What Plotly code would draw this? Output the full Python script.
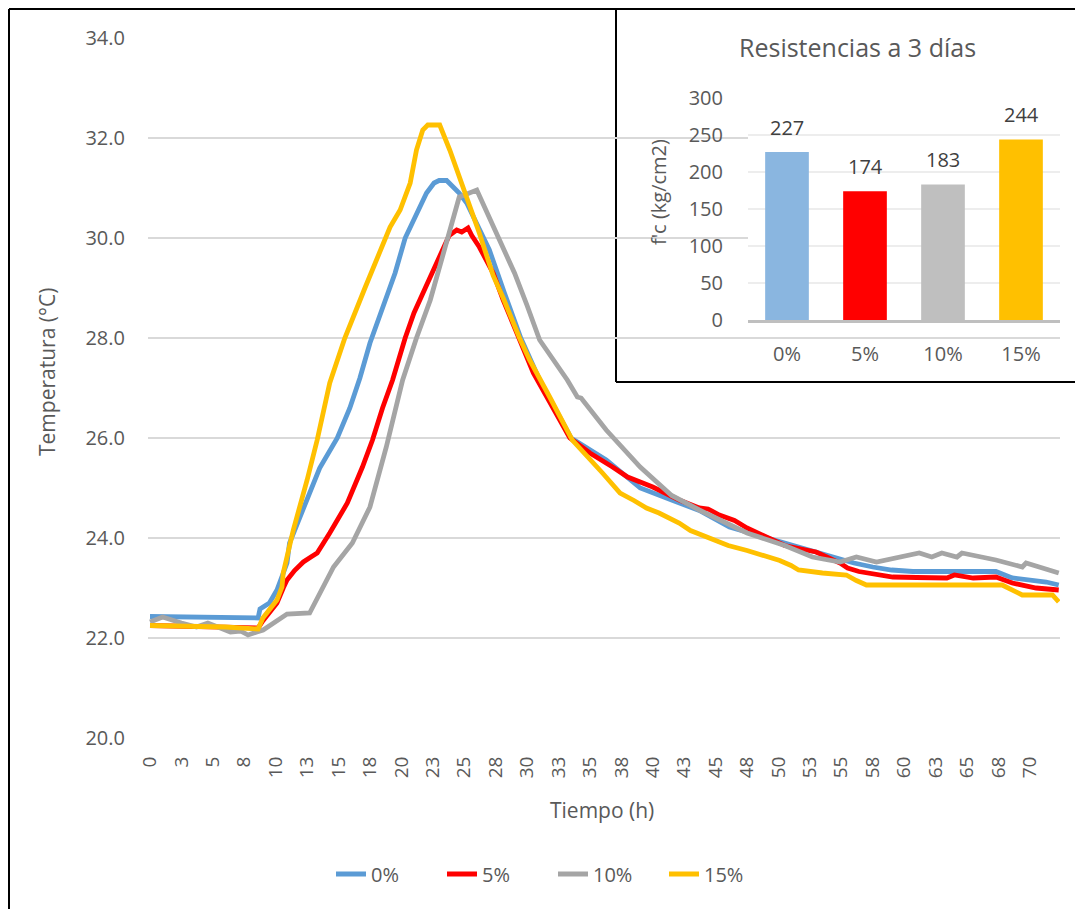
import plotly.graph_objects as go

# ---------------- data ----------------
series_names = ["0%", "5%", "10%", "15%"]
series_colors = ["#5B9BD5", "#FF0000", "#A5A5A5", "#FFC000"]

t_0 = [0, 2, 4, 6, 8.6, 8.75, 9.5, 10.1, 10.9, 11.1, 12.5, 13.5, 14.9, 15.9, 16.7,
       17.5, 18.5, 19.5, 20.3, 21.2, 22.0, 22.6, 23.0, 23.6, 24.0, 24.6, 25.2, 26.0,
       27.0, 28.2, 29.5, 31.0, 33.5, 36.3, 39.0, 41.6, 43.7, 46.1, 48.5, 50.1, 52.5,
       54.6, 56.0, 57.5, 59.0, 60.7, 62.5, 64.0, 66.0, 67.3, 68.6, 70.0, 71.3, 72.3]
temp_0 = [22.43, 22.42, 22.42, 22.41, 22.40, 22.58, 22.70, 22.96, 23.50, 23.90, 24.80,
          25.40, 26.00, 26.60, 27.20, 27.90, 28.60, 29.30, 30.00, 30.50, 30.90, 31.10,
          31.15, 31.15, 31.05, 30.90, 30.70, 30.30, 29.76, 28.90, 28.00, 27.16, 26.00,
          25.56, 25.00, 24.75, 24.55, 24.22, 24.05, 23.92, 23.75, 23.62, 23.50, 23.42,
          23.36, 23.33, 23.33, 23.35, 23.33, 23.33, 23.20, 23.15, 23.12, 23.06]

t_5 = [0, 3, 6, 8.6, 9.0, 10.1, 10.6, 10.9, 11.5, 12.2, 12.8, 13.3, 14.3, 15.0, 15.7,
       16.9, 17.7, 18.5, 19.3, 20.3, 21.0, 21.9, 22.6, 23.3, 23.8, 24.4, 24.8, 25.3,
       25.6, 26.2, 27.3, 28.1, 29.4, 30.5, 33.4, 35.0, 36.8, 38.0, 40.0, 41.0, 42.1,
       43.7, 44.4, 45.3, 46.5, 47.5, 48.7, 50.5, 52.2, 53.0, 54.9, 55.5, 56.4, 57.5,
       59.1, 61.0, 63.4, 64.0, 65.5, 67.3, 68.6, 70.5, 71.5, 72.3]
temp_5 = [22.25, 22.24, 22.22, 22.20, 22.35, 22.70, 23.00, 23.16, 23.35, 23.52, 23.62,
          23.70, 24.10, 24.40, 24.70, 25.42, 25.96, 26.60, 27.16, 28.00, 28.50, 29.00,
          29.40, 29.82, 30.05, 30.16, 30.12, 30.20, 30.05, 29.82, 29.30, 28.76, 28.00,
          27.30, 26.00, 25.70, 25.42, 25.22, 25.02, 24.90, 24.76, 24.60, 24.58, 24.46,
          24.35, 24.20, 24.06, 23.85, 23.76, 23.72, 23.50, 23.40, 23.33, 23.28, 23.22,
          23.21, 23.20, 23.26, 23.20, 23.22, 23.10, 23.00, 22.98, 22.96]

t_10 = [0, 1.0, 2.5, 3.7, 4.6, 5.3, 6.4, 7.2, 7.8, 8.5, 9.0, 10.9, 12.7, 14.6, 16.1,
        17.5, 18.8, 20.1, 21.2, 22.3, 23.0, 23.6, 24.6, 26.0, 27.8, 29.0, 30.0, 31.0,
        33.2, 34.0, 34.3, 36.3, 39.0, 41.5, 43.7, 47.5, 50.5, 52.7, 54.9, 56.2, 57.8,
        59.6, 61.2, 62.2, 63.0, 64.2, 64.6, 67.3, 69.4, 69.7, 72.3]
temp_10 = [22.32, 22.42, 22.30, 22.22, 22.30, 22.22, 22.12, 22.14, 22.06, 22.12, 22.16,
           22.48, 22.50, 23.42, 23.90, 24.62, 25.82, 27.16, 28.00, 28.76, 29.40, 29.96,
           30.82, 30.96, 29.96, 29.30, 28.65, 27.96, 27.16, 26.82, 26.80, 26.16, 25.42,
           24.85, 24.56, 24.10, 23.85, 23.62, 23.52, 23.62, 23.52, 23.62, 23.70, 23.62,
           23.70, 23.62, 23.70, 23.56, 23.42, 23.50, 23.30]

t_15 = [0, 3, 6, 8.6, 8.98, 10.1, 10.5, 10.6, 11.4, 12.5, 13.3, 14.3, 15.5, 17.1, 18.3,
        19.1, 19.9, 20.7, 21.2, 21.7, 22.1, 23.05, 23.85, 24.6, 25.4, 26.2, 27.3, 28.1,
        29.4, 30.2, 31.8, 33.6, 36.0, 37.4, 38.5, 39.5, 40.5, 41.3, 42.1, 43.0, 44.0,
        44.75, 46.0, 47.5, 48.8, 50.1, 51.0, 51.6, 53.5, 55.4, 56.2, 57.0, 67.8, 68.6,
        69.4, 71.8, 72.3]
temp_15 = [22.25, 22.24, 22.22, 22.18, 22.40, 22.76, 23.02, 23.30, 24.16, 25.16, 25.96,
           27.10, 28.00, 29.00, 29.70, 30.22, 30.56, 31.10, 31.76, 32.16, 32.26, 32.26,
           31.76, 31.22, 30.70, 30.10, 29.25, 28.80, 28.00, 27.56, 26.82, 25.96, 25.30,
           24.90, 24.75, 24.60, 24.50, 24.40, 24.30, 24.15, 24.05, 23.95, 23.85, 23.75,
           23.65, 23.55, 23.45, 23.36, 23.30, 23.26, 23.15, 23.06, 23.06, 22.96, 22.86,
           22.86, 22.72]

x_tick_labels = ["0", "3", "5", "8", "10", "13", "15", "18", "20", "23", "25", "28",
                 "30", "33", "35", "38", "40", "43", "45", "48", "50", "53", "55", "58",
                 "60", "63", "65", "68", "70"]
x_tick_step = 2.5

bar_categories = ["0%", "5%", "10%", "15%"]
bar_values = [227, 174, 183, 244]
bar_colors = ["#8AB6E0", "#FF0000", "#BFBFBF", "#FFC000"]

# ---------------- figure ----------------
FONT = "Open Sans"
TXT = "#595959"

fig = go.Figure()
series_t = [t_0, t_5, t_10, t_15]
series_temp = [temp_0, temp_5, temp_10, temp_15]
for name, tt, yy, col in zip(series_names, series_t, series_temp, series_colors):
    fig.add_trace(go.Scatter(x=tt, y=yy, mode="lines", name=name,
                             line=dict(color=col, width=4.8),
                             xaxis="x", yaxis="y"))

fig.add_trace(go.Bar(x=bar_categories, y=bar_values, marker_color=bar_colors,
                     marker_line_width=0, xaxis="x2", yaxis="y2", showlegend=False))

tickvals = [i * x_tick_step for i in range(len(x_tick_labels))]

annotations = []
for c, v in zip(bar_categories, bar_values):
    annotations.append(dict(x=c, y=v, xref="x2", yref="y2", text=str(v), showarrow=False,
                            xanchor="center", yanchor="middle", yshift=25,
                            font=dict(family=FONT, size=20, color="#404040")))
annotations += [
    dict(text="Temperatura (°C)", x=(47 - 148) / 912, y=(738 - 372) / 700,
         xref="paper", yref="paper", showarrow=False, textangle=-90,
         xanchor="center", yanchor="middle",
         font=dict(family=FONT, size=21, color=TXT)),
    dict(text="Tiempo (h)", x=(602 - 148) / 912, y=(738 - 810) / 700,
         xref="paper", yref="paper", showarrow=False,
         xanchor="center", yanchor="middle",
         font=dict(family=FONT, size=21, color=TXT)),
    dict(text="Resistencias a 3 días", x=(857 - 148) / 912, y=(738 - 47) / 700,
         xref="paper", yref="paper", showarrow=False,
         xanchor="center", yanchor="middle",
         font=dict(family=FONT, size=25, color=TXT)),
    dict(text="f'c (kg/cm2)", x=(659 - 148) / 912, y=(738 - 192) / 700,
         xref="paper", yref="paper", showarrow=False, textangle=-90,
         xanchor="center", yanchor="middle",
         font=dict(family=FONT, size=20, color=TXT)),
]

# inset frame, in x2/y2 domain fractions
bx0, bx1 = (616 - 748) / 312, (1075 - 748) / 312
by0, by1 = (320 - 382) / 222, (320 - 9) / 222
frame_line = dict(color="black", width=2)
inset_shapes = [
    dict(type="rect", xref="x2 domain", yref="y2 domain", x0=bx0, x1=bx1, y0=by0, y1=by1,
         fillcolor="white", line=dict(width=0, color="rgba(0,0,0,0)"), layer="below"),
    dict(type="line", xref="x2 domain", yref="y2 domain", x0=bx0, x1=bx0, y0=by0, y1=by1,
         line=frame_line, layer="below"),
    dict(type="line", xref="x2 domain", yref="y2 domain", x0=bx0, x1=bx1, y0=by0, y1=by0,
         line=frame_line, layer="below"),
]
outer_shapes = [
    dict(type="line", xref="paper", yref="paper", x0=(9 - 148) / 912, x1=(9 - 148) / 912,
         y0=(738 - 909) / 700, y1=(738 - 9) / 700, line=frame_line, layer="above"),
    dict(type="line", xref="paper", yref="paper", x0=(9 - 148) / 912, x1=(1075 - 148) / 912,
         y0=(738 - 9) / 700, y1=(738 - 9) / 700, line=frame_line, layer="above"),
]

fig.update_layout(
    width=1086, height=909,
    margin=dict(l=148, r=26, t=38, b=171),
    paper_bgcolor="white", plot_bgcolor="white",
    font=dict(family=FONT, color=TXT),
    bargap=0.44,
    xaxis=dict(domain=[0, 1], range=[-0.16, 72.4], tickvals=tickvals, ticktext=x_tick_labels,
               tickangle=-90, showgrid=False, zeroline=False, showline=False,
               ticks="outside", ticklen=10, tickcolor="rgba(0,0,0,0)",
               tickfont=dict(family=FONT, size=19, color=TXT)),
    yaxis=dict(domain=[0, 1], range=[20, 34], dtick=2, tickformat=".1f",
               showgrid=True, gridcolor="#D9D9D9", gridwidth=1.5, zeroline=False,
               ticks="outside", ticklen=18, tickcolor="rgba(0,0,0,0)",
               tickfont=dict(family=FONT, size=20, color=TXT)),
    xaxis2=dict(domain=[(748 - 148) / 912, 1.0], anchor="y2", type="category",
                showline=True, linecolor="#BFBFBF", linewidth=3, showgrid=False,
                ticks="outside", ticklen=14, tickcolor="rgba(0,0,0,0)",
                tickfont=dict(family=FONT, size=20, color=TXT)),
    yaxis2=dict(domain=[(738 - 320) / 700, (738 - 98) / 700], anchor="x2",
                range=[0, 300], dtick=50, showgrid=True, gridcolor="#EDEDED",
                gridwidth=1.5, zeroline=False,
                ticks="outside", ticklen=20, tickcolor="rgba(0,0,0,0)",
                tickfont=dict(family=FONT, size=20, color=TXT)),
    legend=dict(orientation="h", x=(553 - 148) / 912, y=(738 - 874) / 700,
                xanchor="center", yanchor="middle", entrywidth=66,
                font=dict(family=FONT, size=20, color=TXT), bgcolor="rgba(0,0,0,0)"),
    annotations=annotations,
    shapes=inset_shapes + outer_shapes,
)

fig.write_html("out.html")
